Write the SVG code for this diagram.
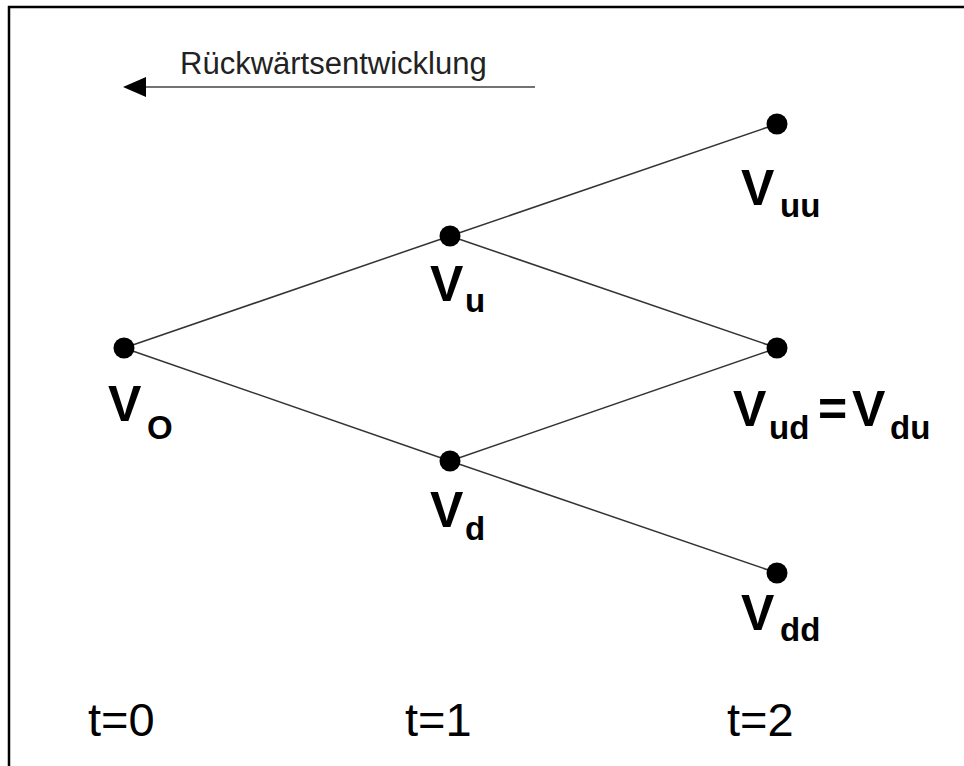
<svg xmlns="http://www.w3.org/2000/svg" width="964" height="766" viewBox="0 0 964 766">
  <style>
    .edge { stroke: #333; stroke-width: 1.5; fill: none; }
    .dot { fill: #000; }
    .lbl { font-family: "Liberation Sans", Arial, sans-serif; font-weight: bold; fill: #000; }
    .main { font-size: 50px; }
    .sub { font-size: 33px; }
    .time { font-family: "Liberation Sans", Arial, sans-serif; font-size: 47px; fill: #000; }
    .note { font-family: "Liberation Sans", Arial, sans-serif; font-size: 31px; fill: #222; }
  </style>
  <rect width="964" height="766" fill="#fff"/>
  <!-- frame: top and left border only -->
  <path d="M9,766 V7 H964" stroke="#000" stroke-width="2.5" fill="none"/>

  <!-- backward-induction arrow -->
  <g id="direction">
    <text class="note" x="180" y="74">Rückwärtsentwicklung</text>
    <line x1="535" y1="87" x2="144" y2="87" stroke="#444" stroke-width="1.5"/>
    <polygon points="123,87 146,77 146,97" fill="#000"/>
  </g>

  <!-- tree edges -->
  <g id="connectors">
    <line class="edge" x1="124" y1="348" x2="450" y2="236"/>
    <line class="edge" x1="124" y1="348" x2="450" y2="461"/>
    <line class="edge" x1="450" y1="236" x2="777" y2="124"/>
    <line class="edge" x1="450" y1="236" x2="777" y2="348"/>
    <line class="edge" x1="450" y1="461" x2="777" y2="348"/>
    <line class="edge" x1="450" y1="461" x2="777" y2="573"/>
  </g>

  <g id="v0">
    <circle class="dot" cx="124" cy="348" r="10.5"/>
    <text class="lbl main" x="108" y="421">V</text>
    <text class="lbl sub" x="147" y="439">O</text>
  </g>
  <g id="vu">
    <circle class="dot" cx="450" cy="236" r="10.5"/>
    <text class="lbl main" x="430" y="301">V</text>
    <text class="lbl sub" x="465" y="312">u</text>
  </g>
  <g id="vd">
    <circle class="dot" cx="450" cy="461" r="10.5"/>
    <text class="lbl main" x="430" y="527">V</text>
    <text class="lbl sub" x="465" y="540">d</text>
  </g>
  <g id="vuu">
    <circle class="dot" cx="777" cy="124" r="10.5"/>
    <text class="lbl main" x="741" y="205">V</text>
    <text class="lbl sub" x="780" y="217">uu</text>
  </g>
  <g id="vud">
    <circle class="dot" cx="777" cy="348" r="10.5"/>
    <text class="lbl main" x="733" y="426">V</text>
    <text class="lbl sub" x="769" y="439">ud</text>
    <text class="lbl main" x="818" y="426">=</text>
    <text class="lbl main" x="852" y="426">V</text>
    <text class="lbl sub" x="890" y="439">du</text>
  </g>
  <g id="vdd">
    <circle class="dot" cx="777" cy="573" r="10.5"/>
    <text class="lbl main" x="741" y="630">V</text>
    <text class="lbl sub" x="780" y="641">dd</text>
  </g>

  <g id="timeline">
    <text class="time" x="88" y="736">t=0</text>
    <text class="time" x="405" y="736">t=1</text>
    <text class="time" x="727" y="736">t=2</text>
  </g>
</svg>
